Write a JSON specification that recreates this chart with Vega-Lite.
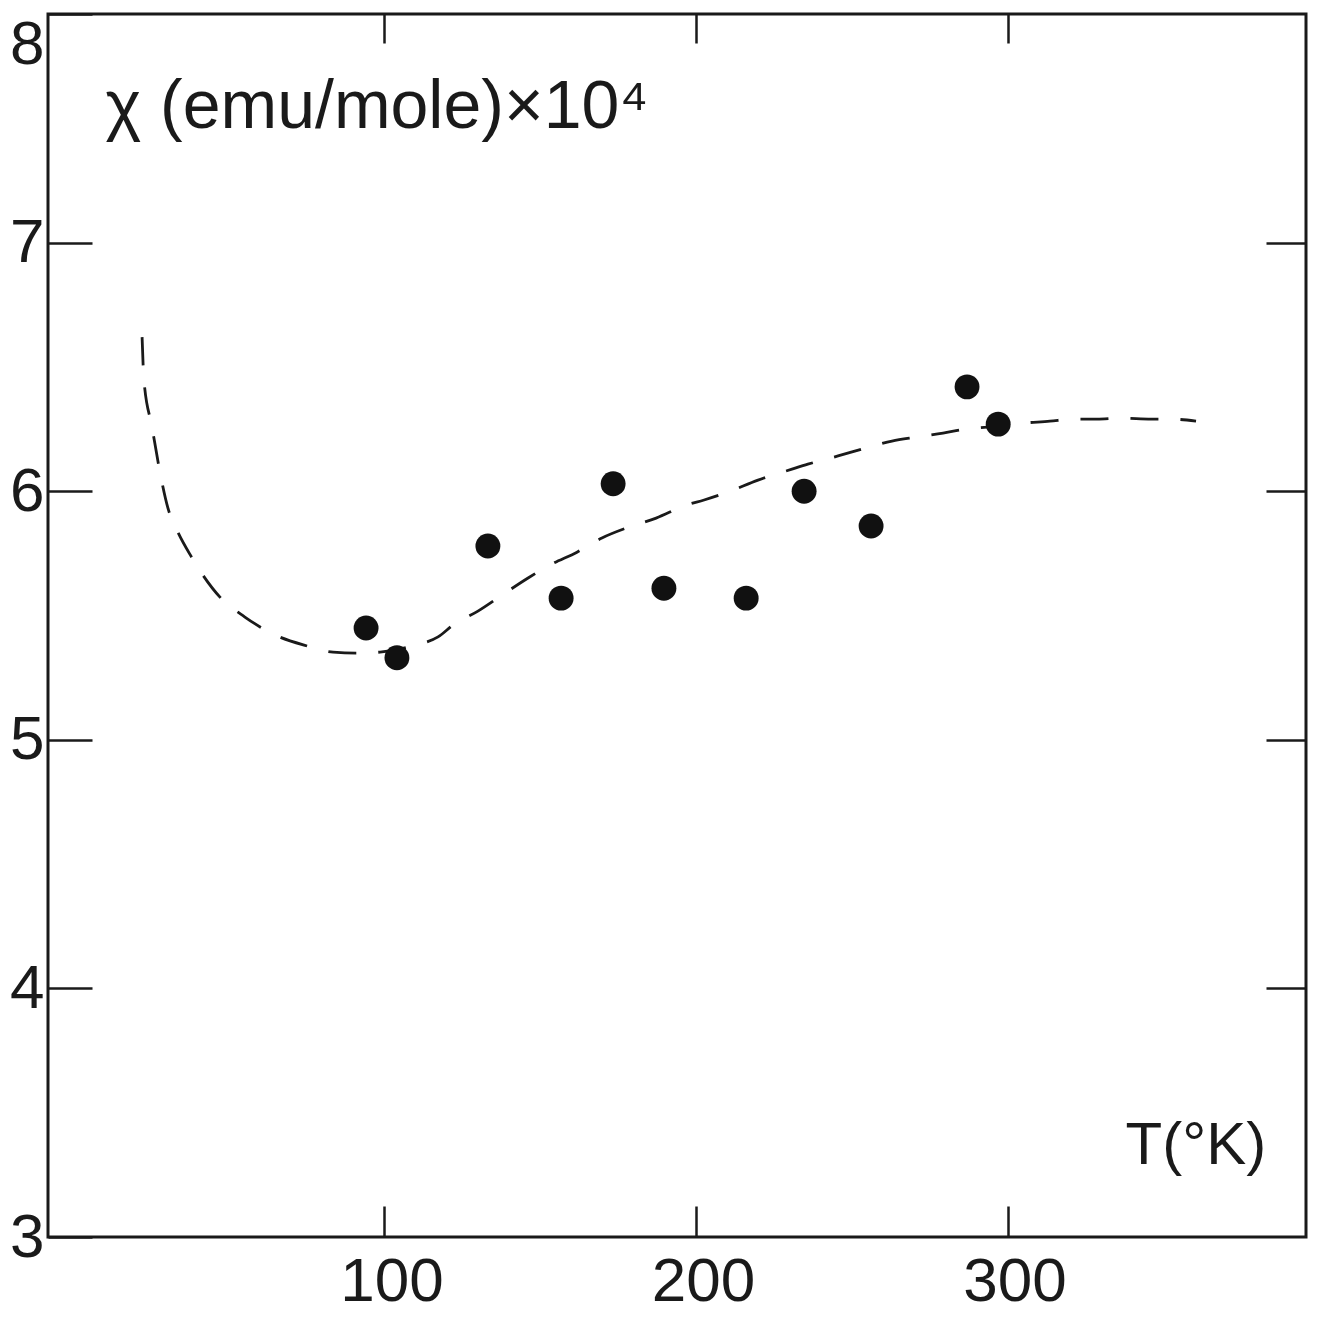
{
  "$schema": "https://vega.github.io/schema/vega-lite/v6.json",
  "autosize": "none",
  "padding": {"left": 48, "top": 14, "right": 15, "bottom": 83},
  "width": 1258,
  "height": 1223,
  "background": "white",
  "config": {
    "view": {"stroke": "#1a1a1a", "strokeWidth": 3},
    "axis": {
      "domain": false,
      "grid": false,
      "tickColor": "#1a1a1a",
      "tickWidth": 2.5,
      "labelFont": "Liberation Sans",
      "labelFontSize": 62,
      "labelColor": "#1a1a1a",
      "titleFont": "Liberation Sans",
      "titleFontSize": 62,
      "titleFontWeight": "normal",
      "titleColor": "#1a1a1a"
    }
  },
  "datasets": {
    "curve": [
      {"T": 22.2, "chi": 6.62}, {"T": 22.8, "chi": 6.447}, {"T": 25.4, "chi": 6.258},
      {"T": 28.3, "chi": 6.053}, {"T": 30.5, "chi": 5.932}, {"T": 33.1, "chi": 5.852},
      {"T": 37.9, "chi": 5.739}, {"T": 41.7, "chi": 5.663}, {"T": 47.5, "chi": 5.57},
      {"T": 55.2, "chi": 5.494}, {"T": 64.2, "chi": 5.426}, {"T": 74.2, "chi": 5.381},
      {"T": 83.5, "chi": 5.353}, {"T": 91.2, "chi": 5.349}, {"T": 98.6, "chi": 5.353},
      {"T": 109.8, "chi": 5.381}, {"T": 117.2, "chi": 5.414}, {"T": 122.0, "chi": 5.462},
      {"T": 130.0, "chi": 5.518}, {"T": 137.7, "chi": 5.582}, {"T": 146.1, "chi": 5.651},
      {"T": 153.1, "chi": 5.703}, {"T": 161.8, "chi": 5.755}, {"T": 169.8, "chi": 5.812},
      {"T": 178.5, "chi": 5.856}, {"T": 187.2, "chi": 5.892}, {"T": 196.8, "chi": 5.944},
      {"T": 202.6, "chi": 5.965}, {"T": 210.3, "chi": 5.997}, {"T": 219.9, "chi": 6.045},
      {"T": 230.8, "chi": 6.089}, {"T": 235.9, "chi": 6.109}, {"T": 245.6, "chi": 6.142},
      {"T": 253.3, "chi": 6.17}, {"T": 262.9, "chi": 6.202}, {"T": 270.9, "chi": 6.218},
      {"T": 279.3, "chi": 6.234}, {"T": 286.4, "chi": 6.25}, {"T": 293.4, "chi": 6.258},
      {"T": 304.7, "chi": 6.274}, {"T": 313.6, "chi": 6.282}, {"T": 320.7, "chi": 6.29},
      {"T": 328.7, "chi": 6.29}, {"T": 336.4, "chi": 6.294}, {"T": 346.1, "chi": 6.29},
      {"T": 352.8, "chi": 6.29}, {"T": 360.5, "chi": 6.282}
    ],
    "points": [
      {"T": 94.1, "chi": 5.45}, {"T": 104.0, "chi": 5.33}, {"T": 133.2, "chi": 5.78},
      {"T": 156.7, "chi": 5.57}, {"T": 173.4, "chi": 6.03}, {"T": 189.7, "chi": 5.61},
      {"T": 216.1, "chi": 5.57}, {"T": 234.7, "chi": 6.0}, {"T": 256.2, "chi": 5.86},
      {"T": 287.0, "chi": 6.42}, {"T": 297.0, "chi": 6.27}
    ]
  },
  "layer": [
    {
      "data": {"name": "curve"},
      "mark": {"type": "line", "interpolate": "monotone", "color": "#1a1a1a", "strokeWidth": 2.8, "strokeDash": [28, 22]},
      "encoding": {
        "x": {
          "field": "T", "type": "quantitative",
          "scale": {"domain": [-8, 395.8], "nice": false, "zero": false},
          "axis": {
            "orient": "bottom", "values": [100, 200, 300], "tickSize": -31,
            "labelPadding": 45, "labelOffset": 7, "labelBaseline": "top",
            "title": "T(°K)", "titleAlign": "left", "titleBaseline": "alphabetic",
            "titleX": 1077, "titleY": -74, "titleFontSize": 60
          }
        },
        "y": {
          "field": "chi", "type": "quantitative",
          "scale": {"domain": [3, 7.92], "nice": false, "zero": false},
          "axis": {
            "orient": "left", "values": [3, 4, 5, 6, 7, 7.92], "tickSize": -44,
            "labelPadding": 48,
            "labelExpr": "datum.value > 7.9 ? '8' : datum.label",
            "labelBaseline": {"condition": {"test": "datum.value > 7.9", "value": "top"}, "value": "middle"},
            "title": "χ (emu/mole)×10⁴", "titleAngle": 0, "titleAlign": "left",
            "titleBaseline": "alphabetic", "titleX": 57, "titleY": 113, "titleFontSize": 68
          }
        }
      }
    },
    {
      "data": {"name": "points"},
      "mark": {"type": "point", "filled": true, "shape": "circle", "size": 620, "color": "#111111", "opacity": 1},
      "encoding": {
        "x": {
          "field": "T", "type": "quantitative",
          "axis": {"orient": "top", "values": [100, 200, 300], "tickSize": -29, "labels": false, "title": null}
        },
        "y": {
          "field": "chi", "type": "quantitative",
          "axis": {"orient": "right", "values": [4, 5, 6, 7], "tickSize": -40, "labels": false, "title": null}
        }
      }
    }
  ],
  "resolve": {"axis": {"x": "independent", "y": "independent"}}
}
